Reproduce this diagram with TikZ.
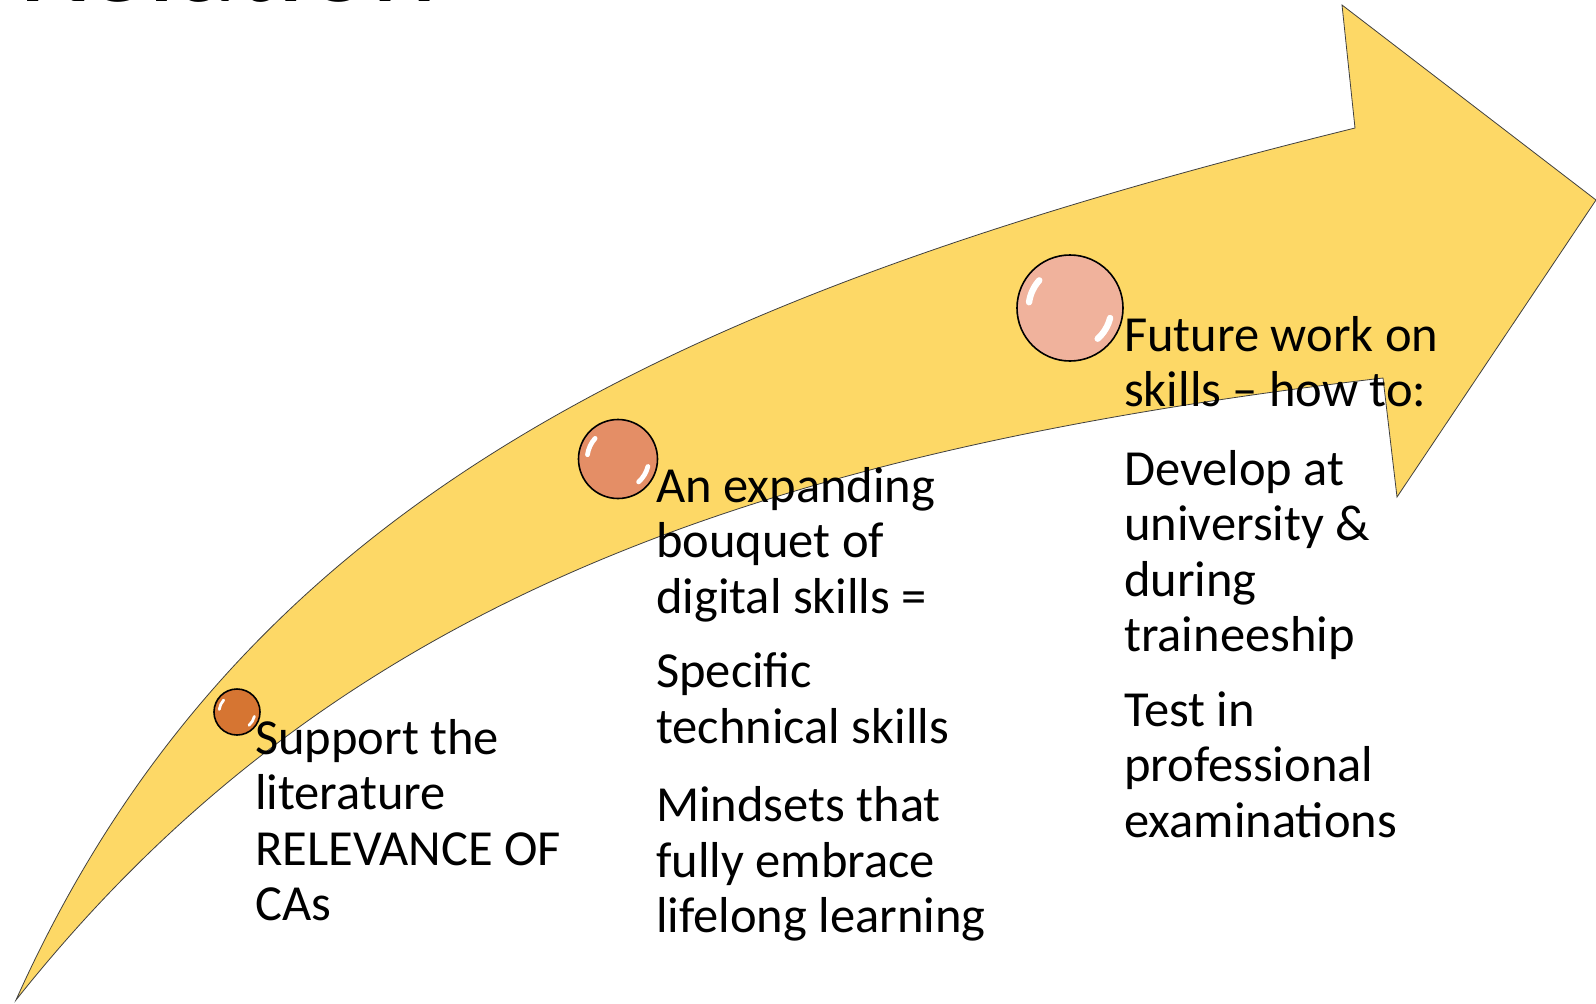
\documentclass[tikz,border=0pt]{standalone}
\usepackage{fontspec}
\setmainfont{Carlito}
\definecolor{arrowfill}{RGB}{253,216,102}
\definecolor{ballA}{RGB}{214,117,50}
\definecolor{ballB}{RGB}{228,142,102}
\definecolor{ballC}{RGB}{240,178,156}
\begin{document}
\begin{tikzpicture}[x=1pt,y=-1pt,
	ball/.style={circle,draw=black,line width=1.6pt,inner sep=0pt},
	stage/.style={anchor=north west,inner sep=0pt,align=left,font=\fontsize{50.5}{55.5}\selectfont}]
	\useasboundingbox (0,0) rectangle (1596,1004);
	\clip (0,0) rectangle (1596,1004);
		% title, cut by the top edge
		\node[anchor=base west,inner sep=0pt,font=\fontsize{126}{130}\selectfont] (title) at (18,1) {Relation};
		% curved arrow
		\draw[fill=arrowfill,draw=black!75,line width=0.8pt,line join=miter](16,1000) .. controls (240,500) and (676,296) .. (1355,128) -- (1342,5) -- (1596,200) -- (1397,497) -- (1383,378) .. controls (738,454) and (326,610) .. (16,1000) -- cycle;
		% the three stages
		\node[ball,fill=ballA,minimum size=46pt] (stepA) at (237,712) {};
		\node[ball,fill=ballB,minimum size=79pt] (stepB) at (618,459) {};
		\node[ball,fill=ballC,minimum size=106pt] (stepC) at (1070,308) {};
		\foreach \b/\r in {stepA/23,stepB/39.5,stepC/53}{
			\draw[white,line width=0.12*\r pt,line cap=round]([shift={(188:0.78*\r)}]\b.center) arc (188:222:0.78*\r);
			\draw[white,line width=0.12*\r pt,line cap=round]([shift={(14:0.78*\r)}]\b.center) arc (14:48:0.78*\r);
		}
		\node[stage] (textA) at (255,719) {Support the\\literature\\RELEVANCE OF\\CAs};
		\node[stage] (textB) at (656,467) {An expanding\\bouquet of\\digital skills =\\[19pt]Specific\\technical skills\\[23pt]Mindsets that\\fully embrace\\lifelong learning};
		\node[stage] (textC) at (1124,316) {Future work on\\skills – how to:\\[23pt]Develop at\\university \&\\during\\traineeship\\[19pt]Test in\\professional\\examinations};
	    \end{tikzpicture}
\end{document}
